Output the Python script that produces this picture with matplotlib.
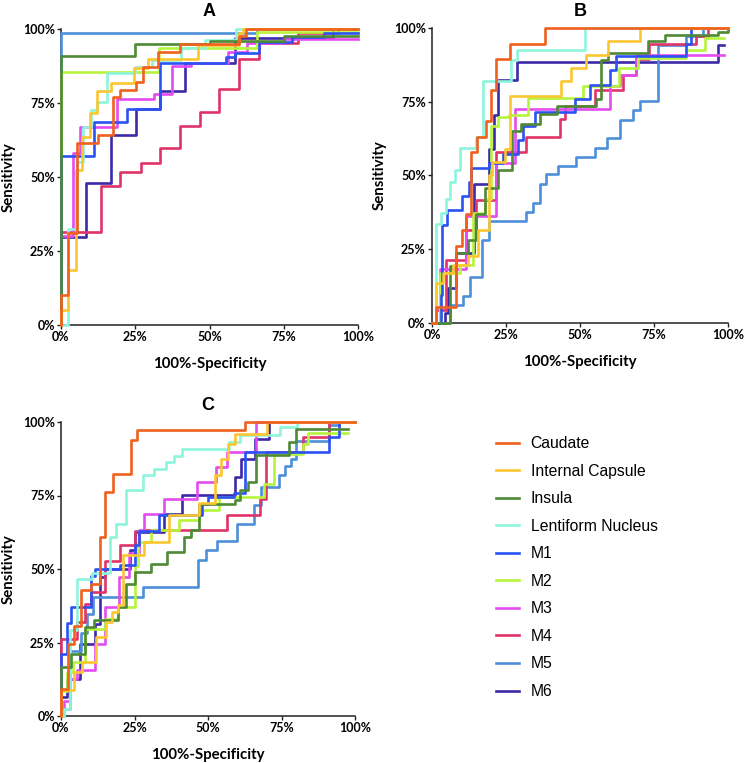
import matplotlib
matplotlib.use('Agg')
import matplotlib.pyplot as plt

names = ['Caudate', 'Internal Capsule', 'Insula', 'Lentiform Nucleus',
         'M1', 'M2', 'M3', 'M4', 'M5', 'M6']
colors = ['#F0601E', '#FBC630', '#4E8A35', '#8CF5DC', '#2B52F5',
          '#B6F53C', '#E24CF0', '#E03468', '#4D8FD8', '#3B2BA8']
ticks = [0, 25, 50, 75, 100]
tick_labels = ['0%', '25%', '50%', '75%', '100%']

# step corners (100%-specificity, sensitivity) in %
roc_a = {
    'Caudate': [(0, 10.1), (2.5, 31), (5.3, 61.4), (12.5, 64.2), (17.6, 76.9), (20, 79.4), (25.4, 82.2),
                (27.7, 87.3), (32.5, 92.3), (40, 94.9), (59.9, 97.6), (62.4, 100), (100, 100)],
    'Internal Capsule': [(0, 5.1), (2.5, 18.6), (5, 52.4), (7.2, 63.4), (9.7, 71.7), (12, 79.1), (17, 81.9),
                         (24.5, 86.7), (29.3, 89.8), (46.1, 94.6), (60.1, 98.5), (61.3, 100), (100, 100)],
    'Insula': [(0, 90.9), (25, 94.9), (50, 96), (75, 97.5), (100, 97.5)],
    'Lentiform Nucleus': [(2.5, 32.3), (5.3, 55), (7.5, 67), (10, 72.5), (12.2, 75.5), (15.4, 85), (24.9, 87.3),
                          (30.7, 89.6), (40.5, 93.5), (48.4, 96.3), (59, 100), (100, 100)],
    'M1': [(0, 57.1), (11.2, 68.7), (22.1, 72.9), (33.3, 88.4), (55.7, 90.4), (58.5, 92), (66.5, 95.7),
           (77.7, 97.2), (88.7, 98.8), (100, 98.8)],
    'M2': [(0, 85.6), (33, 93.5), (66, 99), (100, 99)],
    'M3': [(0, 30), (4, 58), (6.4, 66.8), (18.9, 76.2), (31.4, 78), (37.4, 87.5), (43.9, 88.4), (56.2, 92.1),
           (62.7, 95.4), (75, 96.5), (100, 96.5)],
    'M4': [(0, 31.5), (13.3, 47), (20, 51.6), (26.8, 54.6), (33.4, 59.7), (40, 67.2), (46.7, 72.1), (53.2, 79.7),
           (59.9, 89.8), (66.5, 95.4), (79.7, 98.5), (93.2, 100), (100, 100)],
    'M5': [(0, 98.5), (66, 100), (100, 100)],
    'M6': [(0, 29.8), (8.4, 47.9), (16.8, 64.2), (25.1, 72.9), (33.3, 79.1), (41.7, 88.4), (58.5, 96.8),
           (91.5, 100), (100, 100)],
}

roc_b = {
    'Caudate': [(1.2, 5.4), (8.2, 26.2), (10.2, 31.6), (11.6, 37), (13.3, 57.9), (15.2, 63), (18.4, 68.4),
                (20, 78.9), (21.7, 89.5), (26.5, 94.7), (38.1, 100), (100, 100)],
    'Internal Capsule': [(1.5, 13.6), (3.7, 17), (7.1, 19.8), (12, 22.6), (15.5, 31.6), (19.3, 50.3),
                         (20.4, 54.5), (24.5, 59), (26.2, 77.1), (43.7, 81.9), (47.1, 86.4), (52.1, 91),
                         (59.5, 95.5), (70.2, 100), (100, 100)],
    'Insula': [(6, 19.4), (8.2, 23.7), (12.2, 28.2), (15, 37), (17.8, 45.8), (22.3, 52), (27.1, 65), (30.2, 67.5),
               (36.4, 71), (42.2, 73.7), (55.3, 75.9), (57.2, 89), (59.5, 91.5), (73, 95.5), (78.6, 97.7),
               (96.6, 98.8), (100, 100)],
    'Lentiform Nucleus': [(1.5, 33.7), (3.2, 37.3), (4.8, 42), (6, 47.8), (7.7, 52), (9.6, 59.3), (15, 63),
                          (17.2, 81.9), (26.8, 89.3), (28.7, 92.4), (51.8, 100), (100, 100)],
    'M1': [(3.2, 9.6), (3.5, 33.3), (5.1, 38.2), (10.2, 43), (12.4, 47.7), (13.3, 52.5), (19.3, 54.2), (24, 57.4),
           (29.1, 62.1), (30.7, 66.9), (34.7, 71.4), (48.2, 75.9), (53.3, 80.8), (60, 85.6), (62, 90.6),
           (85.9, 94.7), (87.6, 100), (100, 100)],
    'M2': [(2.6, 17), (9.3, 19.8), (13.9, 37.3), (17.8, 42), (20, 66.7), (22.3, 70), (26, 70.5), (32.4, 76.3),
           (51, 80.2), (63.2, 86.4), (69.6, 89.8), (85.9, 92.5), (92.1, 96.6), (98.5, 96.6)],
    'M3': [(2.8, 18.3), (11.6, 36.4), (21.7, 54.2), (27.9, 72.5), (60.2, 80.5), (63.5, 84), (69, 91), (98.5, 91)],
    'M4': [(1.5, 4.5), (4.8, 21.2), (11.6, 31.6), (15, 41.8), (21.7, 57.9), (31.6, 63), (43.1, 69), (44.8, 73.4),
           (55, 78.9), (64.5, 84.2), (69, 89.5), (73.3, 94.7), (89.3, 97.2), (93.2, 100), (100, 100)],
    'M5': [(6, 6.2), (10.5, 9.3), (12.7, 15.6), (17, 28.2), (19.3, 34.5), (31.9, 37.5), (34.1, 40.7),
           (36.4, 47.1), (38.4, 50.5), (42.6, 53.1), (48.5, 56.3), (55, 59.3), (59.1, 62.7), (63.4, 68.7),
           (67.9, 72.1), (70.2, 75.1), (76.4, 94.4), (85.9, 97.2), (91.6, 100), (100, 100)],
    'M6': [(4.3, 3.4), (5.4, 11.9), (8.2, 23.7), (14.1, 47.1), (19.3, 59), (20.8, 70.6), (22.3, 82.3),
           (28.8, 88.4), (96.6, 94.4), (98.5, 94.4)],
}

roc_c = {
    'Caudate': [(0, 9.3), (2.3, 24.6), (4.5, 30.5), (6.8, 42.7), (10.1, 45), (13.2, 60.9), (15.1, 76.2),
                (17.7, 82.2), (23.9, 94), (25.9, 97.2), (62.7, 100), (100, 100)],
    'Internal Capsule': [(0, 9), (4.5, 15), (7, 18.3), (12, 26.9), (15.4, 32), (17.3, 35.5), (19.4, 37.8),
                         (21.1, 54.6), (28.2, 59.2), (36.8, 68.3), (47, 72.4), (52.3, 81.9), (54.3, 87.5),
                         (56.8, 92.6), (59.3, 95.8), (70, 100), (100, 100)],
    'Insula': [(0, 16.7), (3.4, 21.2), (8.3, 30.3), (11.3, 32.8), (19.4, 37), (22.2, 45), (25, 49), (30.6, 51.6),
               (36, 55.8), (41.7, 60.9), (44.1, 63.2), (47, 72.2), (59.3, 73.5), (60.8, 76.8), (63.5, 79.6),
               (66.4, 88.7), (77.4, 93.2), (80, 97.7), (97.5, 97.7)],
    'Lentiform Nucleus': [(1.1, 2.5), (3, 29.1), (5.6, 46.7), (10.4, 48.5), (16.6, 60.9), (18.8, 65.4),
                          (22.2, 76.8), (27.8, 81.9), (31.5, 84.1), (35.7, 86.4), (38.5, 88.6), (41.3, 90.9),
                          (57.1, 93.2), (61, 95.5), (74.5, 98.3), (80.2, 100), (100, 100)],
    'M1': [(0, 21.2), (1.9, 31.6), (3.4, 37.1), (10.1, 47.5), (11.5, 50), (20, 51.5), (25, 58), (26.5, 63),
           (33.5, 68.3), (48, 72), (50, 74.5), (59, 76), (62.7, 89.8), (91.2, 94.9), (94.6, 100), (96, 100)],
    'M2': [(0, 8.5), (1.9, 15), (4.2, 18.4), (8.3, 29.7), (14.9, 33), (19.4, 37), (25, 51), (26.1, 59.2),
           (30.6, 63.4), (40.2, 66.5), (47, 70.2), (53.7, 74.5), (68.9, 79), (72.3, 89.2), (82.4, 92.5),
           (84.1, 96.3), (97.5, 96.3)],
    'M3': [(1.1, 5), (3, 12.7), (5.3, 15.8), (11.5, 24.6), (14.9, 37.1), (19.6, 47.3), (23, 55.5), (26.7, 63.4),
           (28.2, 68.6), (34.9, 73.9), (46.4, 79.6), (52.6, 84.7), (56.3, 89.8), (66.4, 100), (100, 100)],
    'M4': [(0, 26.3), (5.3, 32), (8.3, 38.2), (10.1, 42.2), (14.9, 52.7), (19.9, 58), (25, 62.9), (28.2, 63.4),
           (56.3, 68.3), (67.8, 73.9), (69.8, 89.8), (82.4, 94.9), (91.2, 100), (98, 100)],
    'M5': [(1.1, 2.5), (3, 22), (6.8, 28.2), (8.7, 34.8), (10.9, 40.5), (27.8, 43.9), (46.6, 53.2), (49.2, 56.3),
           (53.2, 59.5), (59.7, 65.4), (65.5, 71.7), (68, 77.9), (74.3, 81.9), (76.2, 85), (78.2, 87.5),
           (80, 93.7), (91.2, 98.9), (94.6, 98.9)],
    'M6': [(0, 6.5), (1.9, 12.7), (6.4, 24.6), (11.5, 31.4), (13.2, 47.3), (14.9, 50.1), (23.6, 56.3),
           (25.2, 62.6), (34.9, 68.8), (41.1, 75.3), (59.3, 81.3), (61.3, 87.5), (66.1, 94.3), (70.9, 100),
           (100, 100)],
}

tick_font = {'family': 'Lato', 'weight': 'bold', 'size': 9}
label_font = {'family': 'Lato', 'weight': 'bold', 'size': 10.8}


def draw_panel(ax, roc, title):
    # draw in reverse so Caudate ends up on top
    for name, col in reversed(list(zip(names, colors))):
        pts = roc[name]
        xs = [0] + [p[0] for p in pts]
        ys = [0] + [p[1] for p in pts]
        ax.plot(xs, ys, drawstyle='steps-post', color=col, lw=1.9, label=name,
                clip_on=False, zorder=3)
    ax.set_xlim(0, 100)
    ax.set_ylim(0, 100)
    ax.set_xticks(ticks)
    ax.set_yticks(ticks)
    ax.set_xticklabels(tick_labels, fontdict=tick_font)
    ax.set_yticklabels(tick_labels, fontdict=tick_font)
    ax.tick_params(length=3, width=1, pad=1.5, color='#222222')
    for s in ['top', 'right']:
        ax.spines[s].set_visible(False)
    for s in ['left', 'bottom']:
        ax.spines[s].set_linewidth(1.1)
        ax.spines[s].set_color('#222222')
    ax.set_xlabel('100%-Specificity', fontdict=label_font, labelpad=10)
    ax.set_ylabel('Sensitivity', fontdict=label_font, labelpad=5)
    ax.set_title(title, fontsize=13, fontweight='bold', family='Liberation Sans', pad=9)


fig = plt.figure(figsize=(7.45, 7.63), dpi=100)
ax_a = fig.add_axes([61 / 745, 1 - 325 / 763, 297 / 745, 296 / 763])
ax_b = fig.add_axes([432 / 745, 1 - 323 / 763, 296 / 745, 295 / 763])
ax_c = fig.add_axes([61 / 745, 1 - 716 / 763, 294 / 745, 294 / 763])

draw_panel(ax_a, roc_a, 'A')
draw_panel(ax_b, roc_b, 'B')
draw_panel(ax_c, roc_c, 'C')

handles, labels = ax_c.get_legend_handles_labels()
fig.legend(handles[::-1], labels[::-1], loc='upper left', bbox_to_anchor=(496 / 745, 1 - 436 / 763),
           frameon=False, borderpad=0, borderaxespad=0, handlelength=1.45, handletextpad=0.75,
           labelspacing=0.8, prop={'family': 'Liberation Sans', 'size': 11.3})

fig.savefig('out.png', dpi=100)
